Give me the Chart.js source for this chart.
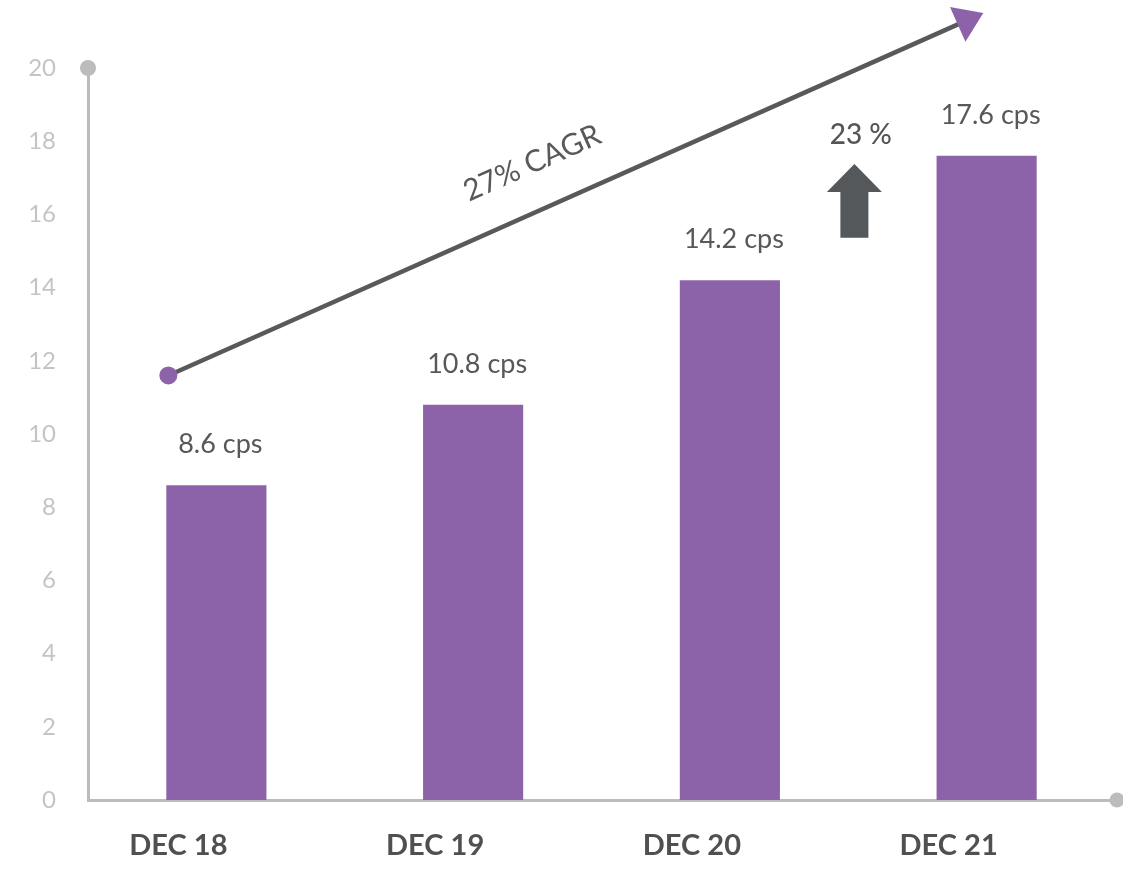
<!DOCTYPE html>
<html>
<head>
<meta charset="utf-8">
<script src="https://cdn.jsdelivr.net/npm/chart.js@4.4.1/dist/chart.umd.min.js"></script>
<style>
  html, body { margin: 0; padding: 0; background: #fff; }
  #myChart { display: block; }
</style>
</head>
<body>
<canvas id="myChart" width="1123" height="870"></canvas>
<script>
const categories = ["DEC 18", "DEC 19", "DEC 20", "DEC 21"];
const cpsValues = [8.6, 10.8, 14.2, 17.6];
const valueLabels = ["8.6 cps", "10.8 cps", "14.2 cps", "17.6 cps"];
const yMin = 0;
const yMax = 20;
const yStep = 2;
const cagrLabel = "27% CAGR";
const growthLabel = "23 %";

const purple = "#8c63a8";
const darkGrey = "#58595b";
const axisGrey = "#bcbcbd";

// axis lines end in a round dot (top of y, right end of x)
const axisDots = {
  id: "axisDots",
  afterDraw(chart) {
    const { ctx, chartArea } = chart;
    ctx.save();
    ctx.fillStyle = axisGrey;
    ctx.beginPath();
    ctx.arc(chartArea.left, chartArea.top, 8, 0, Math.PI * 2);
    ctx.fill();
    ctx.beginPath();
    ctx.arc(chartArea.right + 2, chartArea.bottom, 7.5, 0, Math.PI * 2);
    ctx.fill();
    ctx.restore();
  },
};

// "x.x cps" above each bar
const barValues = {
  id: "barValues",
  afterDatasetsDraw(chart) {
    const { ctx } = chart;
    const meta = chart.getDatasetMeta(0);
    ctx.save();
    ctx.font = "27px Lato";
    ctx.fillStyle = "#58585a";
    ctx.textAlign = "center";
    ctx.textBaseline = "alphabetic";
    meta.data.forEach((bar, i) => {
      ctx.fillText(valueLabels[i], bar.x + 4, bar.y - 32);
    });
    ctx.restore();
  },
};

// CAGR trend arrow, growth arrow and their captions
const trendArrow = {
  id: "trendArrow",
  afterDraw(chart) {
    const { ctx } = chart;
    const x = chart.scales.x;
    const y = chart.scales.y;

    const x0 = x.getPixelForValue(-0.187);
    const y0 = y.getPixelForValue(11.6);
    const x1 = x.getPixelForValue(2.987);
    const y1 = y.getPixelForValue(21.5);
    const ang = Math.atan2(y1 - y0, x1 - x0);
    const headLen = 28;
    const headHalf = 19;
    const bx = x1 - Math.cos(ang) * headLen;
    const by = y1 - Math.sin(ang) * headLen;

    ctx.save();
    ctx.strokeStyle = darkGrey;
    ctx.lineWidth = 4.5;
    ctx.beginPath();
    ctx.moveTo(x0, y0);
    ctx.lineTo(bx + Math.cos(ang) * 4, by + Math.sin(ang) * 4);
    ctx.stroke();

    ctx.fillStyle = purple;
    ctx.beginPath();
    ctx.moveTo(x1, y1);
    ctx.lineTo(bx + Math.sin(ang) * headHalf, by - Math.cos(ang) * headHalf);
    ctx.lineTo(bx - Math.sin(ang) * headHalf, by + Math.cos(ang) * headHalf);
    ctx.closePath();
    ctx.fill();

    ctx.beginPath();
    ctx.arc(x0, y0, 9, 0, Math.PI * 2);
    ctx.fill();

    // rotated caption along the trend line
    ctx.save();
    ctx.translate(x.getPixelForValue(1.23), y.getPixelForValue(17.4));
    ctx.rotate(ang);
    ctx.font = "30px Lato";
    ctx.fillStyle = darkGrey;
    ctx.textAlign = "center";
    ctx.textBaseline = "middle";
    ctx.fillText(cagrLabel, 0, 0);
    ctx.restore();

    // block up-arrow
    const ax = x.getPixelForValue(2.485);
    const tip = y.getPixelForValue(17.38);
    const neck = y.getPixelForValue(16.61);
    const foot = y.getPixelForValue(15.36);
    ctx.fillStyle = "#54585b";
    ctx.beginPath();
    ctx.moveTo(ax, tip);
    ctx.lineTo(ax + 27.5, neck);
    ctx.lineTo(ax + 14, neck);
    ctx.lineTo(ax + 14, foot);
    ctx.lineTo(ax - 14, foot);
    ctx.lineTo(ax - 14, neck);
    ctx.lineTo(ax - 27.5, neck);
    ctx.closePath();
    ctx.fill();

    ctx.font = "500 28px Lato";
    ctx.fillStyle = "#555557";
    ctx.textAlign = "center";
    ctx.textBaseline = "alphabetic";
    ctx.fillText(growthLabel, x.getPixelForValue(2.51), y.getPixelForValue(17.92));
    ctx.restore();
  },
};

const ctx = document.getElementById("myChart").getContext("2d");
const myChart = new Chart(ctx, {
  type: "bar",
  data: {
    labels: categories,
    datasets: [
      {
        data: cpsValues,
        backgroundColor: purple,
        barPercentage: 0.39,
        categoryPercentage: 1,
      },
    ],
  },
  options: {
    responsive: false,
    animation: false,
    events: [],
    layout: {
      padding: { top: 68, right: 8, left: 0, bottom: 0 },
    },
    plugins: {
      legend: { display: false },
      tooltip: { enabled: false },
    },
    scales: {
      x: {
        grid: { display: false, drawTicks: false },
        border: { display: true, color: axisGrey, width: 3 },
        ticks: {
          color: "#505052",
          font: { family: "Lato", size: 29, weight: "bold" },
          padding: 28,
          labelOffset: -38,
          maxRotation: 0,
        },
        afterFit: (scale) => {
          scale.height = 70;
        },
      },
      y: {
        min: yMin,
        max: yMax,
        grid: { display: false, drawTicks: false },
        border: { display: true, color: axisGrey, width: 3 },
        ticks: {
          stepSize: yStep,
          color: "#c4c4c4",
          font: { family: "Lato", size: 24 },
          padding: 32,
        },
        afterFit: (scale) => {
          scale.width = 88;
        },
      },
    },
  },
  plugins: [barValues, trendArrow, axisDots],
});
</script>
</body>
</html>
